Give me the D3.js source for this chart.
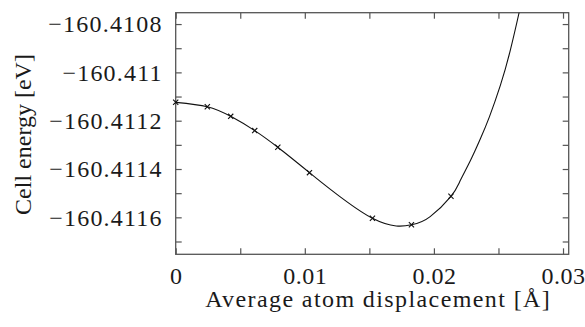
<!DOCTYPE html>
<html>
<head>
  <meta charset="UTF-8">
  <script src="https://d3js.org/d3.v7.min.js"></script>
  <style>
    .frame { fill: none; stroke: #555; stroke-width: 1.3px; }
    .tick line { stroke: #555; stroke-width: 1.2px; }
    .fit { fill: none; stroke: #111; stroke-width: 1.1px; }
    .marker { stroke: #111; stroke-width: 1.1px; }
  </style>
</head>
<body style="margin:0">
<div id="chart"></div>
<script>
  // measured points (x markers)
  const dispX = [0, 0.00245, 0.00426, 0.00612, 0.00791, 0.01036, 0.01524, 0.01826, 0.02132];
  const energyY = [-160.411124, -160.411142, -160.411182, -160.411241, -160.41131,
                   -160.411415, -160.411604, -160.411631, -160.411513];

  // fitted curve
  const fitX = [0, 0.00245, 0.00426, 0.00612, 0.00791, 0.01036, 0.01524,
                0.01826, 0.01971, 0.02132, 0.02204, 0.02281, 0.02359, 0.02429, 0.02514,
                0.02591, 0.02661, 0.0267];
  const fitY = [-160.411124, -160.411142, -160.411182, -160.411241, -160.41131, -160.411415,
                -160.411604, -160.411631, -160.411597, -160.411513,
                -160.411448, -160.411367, -160.411276, -160.411185, -160.411055,
                -160.41091, -160.41075, -160.410727];

  const xTickValues = [0, 0.005, 0.01, 0.015, 0.02, 0.025, 0.03];
  const xTickLabels = ["0", "", "0.01", "", "0.02", "", "0.03"];
  const yTickValues = [-160.4108, -160.4109, -160.411, -160.4111, -160.4112, -160.4113,
                       -160.4114, -160.4115, -160.4116, -160.4117];
  const yTickLabels = ["\u2212160.4108", "", "\u2212160.411", "", "\u2212160.4112", "",
                       "\u2212160.4114", "", "\u2212160.4116", ""];

  const width = 585, height = 327;
  const margin = { top: 12.7, right: 16.3, bottom: 72.7, left: 175.7 };
  const w = width - margin.left - margin.right;
  const h = height - margin.top - margin.bottom;
  const serif = "Liberation Serif";
  const fontSize = 24;

  const svg = d3.select("#chart").append("svg")
    .attr("width", width).attr("height", height)
    .attr("font-family", serif)
    .style("font-family", "'Liberation Serif'");

  const g = svg.append("g").attr("transform", `translate(${margin.left},${margin.top})`);

  const x = d3.scaleLinear().domain([0, 0.03044]).range([0, w]);
  const y = d3.scaleLinear().domain([-160.411753, -160.410753]).range([h, 0]);

  const tickLen = 6;

  // bottom axis (ticks inward)
  const xAxis = g.append("g").attr("transform", `translate(0,${h})`)
    .call(d3.axisBottom(x).tickValues(xTickValues).tickSize(-tickLen)
      .tickFormat((d, i) => xTickLabels[i]).tickPadding(13));
  // top mirror
  g.append("g")
    .call(d3.axisTop(x).tickValues(xTickValues).tickSize(-tickLen).tickFormat(""));
  // left axis
  const yAxis = g.append("g")
    .call(d3.axisLeft(y).tickValues(yTickValues).tickSize(-tickLen)
      .tickFormat((d, i) => yTickLabels[i]).tickPadding(13));
  // right mirror
  g.append("g").attr("transform", `translate(${w},0)`)
    .call(d3.axisRight(y).tickValues(yTickValues).tickSize(-tickLen).tickFormat(""));

  g.selectAll(".domain").remove();
  // d3 puts its own font attrs on each axis group
  g.selectAll("g").attr("font-family", null).attr("font-size", fontSize);
  g.selectAll(".tick text").attr("fill", "#1a1a1a");
  yAxis.selectAll(".tick text").attr("letter-spacing", 1.2);
  xAxis.selectAll(".tick text").attr("dy", "0.71em").attr("letter-spacing", 0.5);

  g.append("rect").attr("class", "frame").attr("width", w).attr("height", h);

  g.append("clipPath").attr("id", "clip")
    .append("rect").attr("width", w).attr("height", h);

  const fitData = fitX.map((d, i) => ({ x: d, y: fitY[i] }));
  const line = d3.line()
    .x(d => x(d.x)).y(d => y(d.y))
    .curve(d3.curveNatural);

  g.append("path").datum(fitData)
    .attr("class", "fit")
    .attr("clip-path", "url(#clip)")
    .attr("d", line);

  const pts = dispX.map((d, i) => ({ x: d, y: energyY[i] }));
  const s = 2.6;
  g.append("g").selectAll("path")
    .data(pts)
    .enter()
    .append("path")
    .attr("class", "marker")
    .attr("d", d => {
      const px = x(d.x), py = y(d.y);
      return `M${px - s},${py - s}L${px + s},${py + s}M${px - s},${py + s}L${px + s},${py - s}`;
    });

  // axis titles
  svg.append("text")
    .attr("x", margin.left + w / 2 + 6)
    .attr("y", 307)
    .attr("text-anchor", "middle")
    .attr("font-size", fontSize)
    .attr("letter-spacing", 1.4)
    .attr("fill", "#1a1a1a")
    .text("Average atom displacement [\u00c5]");

  svg.append("text")
    .attr("transform", `translate(31,${margin.top + h / 2 + 1}) rotate(-90)`)
    .attr("text-anchor", "middle")
    .attr("font-size", fontSize)
    .attr("fill", "#1a1a1a")
    .text("Cell energy [eV]");
</script>
</body>
</html>
